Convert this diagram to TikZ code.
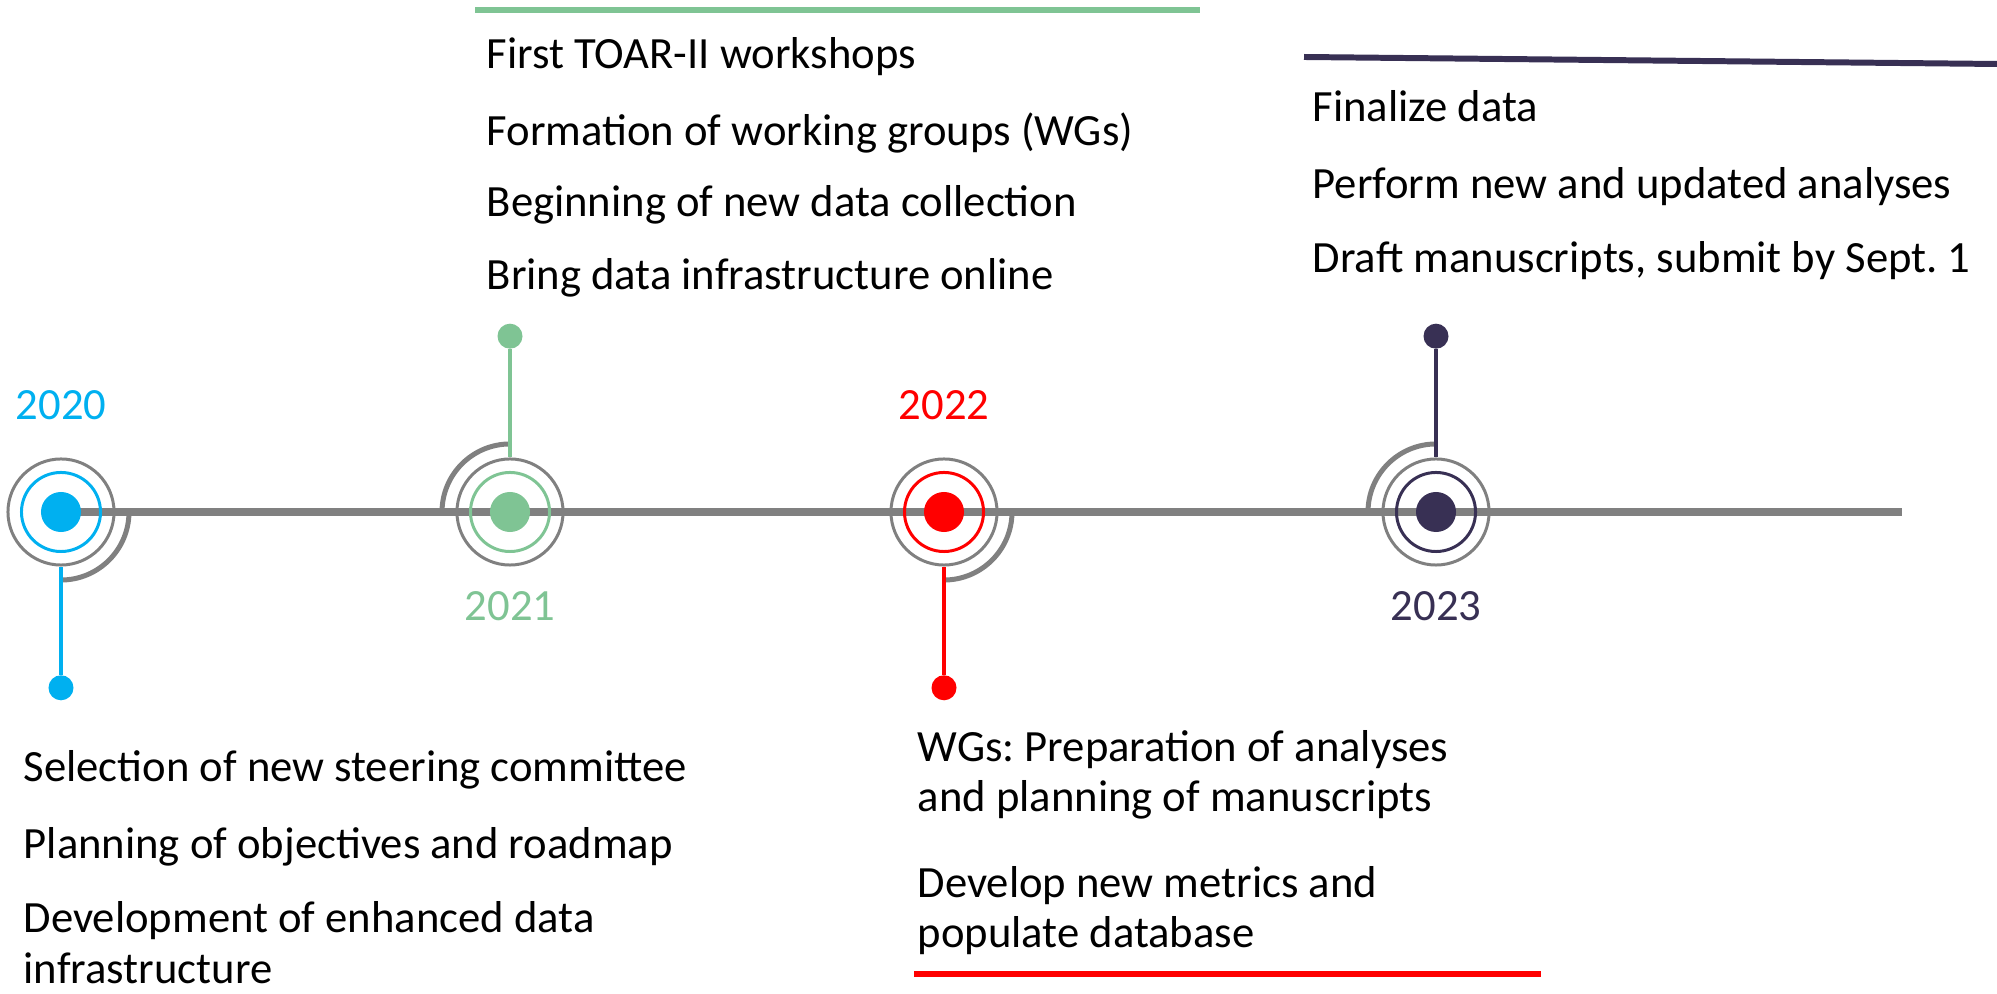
\documentclass[tikz,border=0pt]{standalone}
\usepackage{fontspec}
\setmainfont{Carlito}
\usetikzlibrary{positioning}

\definecolor{tlgray}{RGB}{128,128,128}
\definecolor{tlblue}{RGB}{0,176,240}
\definecolor{tlgreen}{RGB}{127,196,148}
\definecolor{tlred}{RGB}{255,0,0}
\definecolor{tlnavy}{RGB}{56,48,84}

\begin{document}
\frenchspacing
\begin{tikzpicture}[x=0.01cm,y=0.01cm,
        outerring/.style={shape=circle,draw=tlgray,line width=0.85pt,minimum size=1.06cm,inner sep=0pt},
        colring/.style={shape=circle,draw=#1,line width=0.85pt,minimum size=0.79cm,inner sep=0pt},
        coredot/.style={shape=circle,fill=#1,minimum size=0.40cm,inner sep=0pt},
        pindot/.style={shape=circle,fill=#1,minimum size=0.25cm,inner sep=0pt},
        stem/.style={draw=#1,line width=1.13pt},
        hookarc/.style={draw=tlgray,line width=1.42pt},
        timeline/.style={draw=tlgray,line width=2.27pt},
        bar/.style={draw=#1,line width=1.7pt},
        year/.style={text=#1,anchor=base,inner sep=0pt,font=\fontsize{12.7}{15}\selectfont},
        item/.style={anchor=base west,inner sep=0pt,align=left,font=\fontsize{12.7}{14.5}\selectfont}]

        \useasboundingbox (0,0) rectangle (1997,994);

        % Milestone centres
        \coordinate (m20) at (61,482);
        \coordinate (m21) at (510,482);
        \coordinate (m22) at (944,482);
        \coordinate (m23) at (1436,482);
        \coordinate (tlend) at (1902,482);

        % Time axis
        \draw[timeline] (m20) -- (tlend);

        % Quarter hooks around the rings
        \draw[hookarc] (m20) ++(68,0) arc[start angle=0,end angle=-90,radius=0.68cm];
        \draw[hookarc] (m21) ++(-68,0) arc[start angle=180,end angle=90,radius=0.68cm];
        \draw[hookarc] (m22) ++(68,0) arc[start angle=0,end angle=-90,radius=0.68cm];
        \draw[hookarc] (m23) ++(-68,0) arc[start angle=180,end angle=90,radius=0.68cm];

        % Milestones
        \node[outerring] (o20) at (m20) {};
        \node[colring=tlblue] (i20) at (m20) {};
        \node[coredot=tlblue] (c20) at (m20) {};
        \node[outerring] (o21) at (m21) {};
        \node[colring=tlgreen] (i21) at (m21) {};
        \node[coredot=tlgreen] (c21) at (m21) {};
        \node[outerring] (o22) at (m22) {};
        \node[colring=tlred] (i22) at (m22) {};
        \node[coredot=tlred] (c22) at (m22) {};
        \node[outerring] (o23) at (m23) {};
        \node[colring=tlnavy] (i23) at (m23) {};
        \node[coredot=tlnavy] (c23) at (m23) {};

        % Pins
        \node[pindot=tlblue,below=1.08cm of o20] (p20) {};
        \node[pindot=tlgreen,above=1.08cm of o21] (p21) {};
        \node[pindot=tlred,below=1.08cm of o22] (p22) {};
        \node[pindot=tlnavy,above=1.08cm of o23] (p23) {};
        \draw[stem=tlblue] (o20) -- (p20);
        \draw[stem=tlgreen] (o21) -- (p21);
        \draw[stem=tlred] (o22) -- (p22);
        \draw[stem=tlnavy] (o23) -- (p23);

        % Years
        \node[year=tlblue] (y20) at (61,574) {2020};
        \node[year=tlgreen] (y21) at (510,373) {2021};
        \node[year=tlred] (y22) at (944,574) {2022};
        \node[year=tlnavy] (y23) at (1436,373) {2023};

        % 2020 tasks (two-line items sit on their last baseline)
        \node[item] (t20a) at (23,212) {Selection of new steering committee};
        \node[item] (t20b) at (23,135) {Planning of objectives and roadmap};
        \node[item] (t20c) at (23,11) {Development of enhanced data\\infrastructure};

        % 2021 tasks
        \draw[bar=tlgreen] (475,984) -- (1200,984);
        \node[item] (t21a) at (486,925) {First TOAR-II workshops};
        \node[item] (t21b) at (486,848) {Formation of working groups (WGs)};
        \node[item] (t21c) at (486,777) {Beginning of new data collection};
        \node[item] (t21d) at (486,704) {Bring data infrastructure online};

        % 2022 tasks
        \node[item] (t22a) at (917,182) {WGs: Preparation of analyses\\and planning of manuscripts};
        \node[item] (t22b) at (917,46) {Develop new metrics and\\populate database};
        \draw[bar=tlred] (914,20) -- (1541,20);

        % 2023 tasks
        \draw[bar=tlnavy] (1304,937) -- (1997,930);
        \node[item] (t23a) at (1312,872) {Finalize data};
        \node[item] (t23b) at (1312,795) {Perform new and updated analyses};
        \node[item] (t23c) at (1312,721) {Draft manuscripts, submit by Sept. 1};

\end{tikzpicture}
\end{document}
